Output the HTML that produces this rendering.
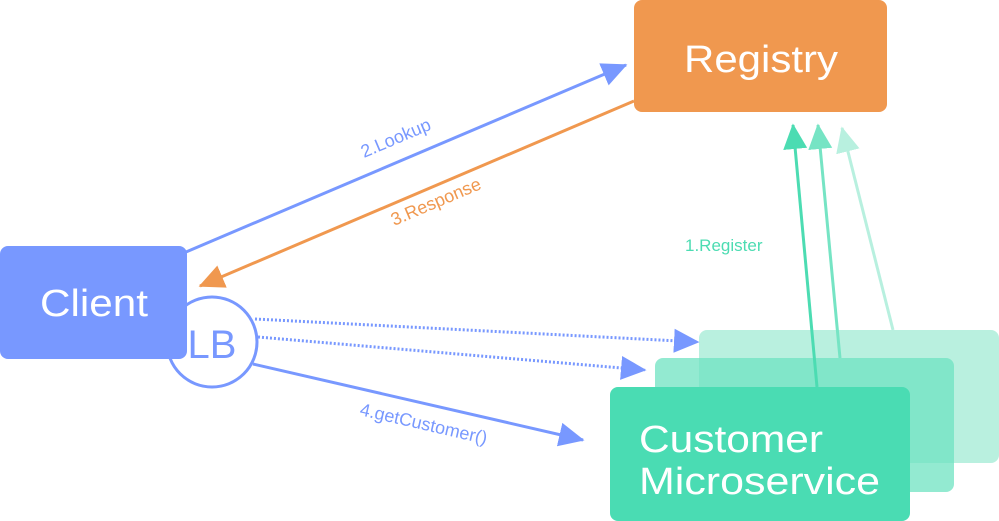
<!DOCTYPE html>
<html><head><meta charset="utf-8"><style>
html,body{margin:0;padding:0;background:#fff;}
svg{display:block;font-family:"Liberation Sans",sans-serif;}
</style></head><body>
<svg width="999" height="521" viewBox="0 0 999 521" xmlns="http://www.w3.org/2000/svg">
<defs>
<marker id="ab" markerWidth="9" markerHeight="9" refX="8" refY="4.5" orient="auto" markerUnits="strokeWidth"><path d="M0,0.5 L8.5,4.5 L0,8.5 Z" fill="#7898ff"/></marker>
<marker id="ao" markerWidth="9" markerHeight="9" refX="8" refY="4.5" orient="auto" markerUnits="strokeWidth"><path d="M0,0.5 L8.5,4.5 L0,8.5 Z" fill="#f0984f"/></marker>
<marker id="g1" markerWidth="9" markerHeight="9" refX="8" refY="4.5" orient="auto" markerUnits="strokeWidth"><path d="M0,0.5 L8.5,4.5 L0,8.5 Z" fill="#4cdcb2"/></marker>
<marker id="g2" markerWidth="9" markerHeight="9" refX="8" refY="4.5" orient="auto" markerUnits="strokeWidth"><path d="M0,0.5 L8.5,4.5 L0,8.5 Z" fill="#76e4c4"/></marker>
<marker id="g3" markerWidth="9" markerHeight="9" refX="8" refY="4.5" orient="auto" markerUnits="strokeWidth"><path d="M0,0.5 L8.5,4.5 L0,8.5 Z" fill="#b8f0df"/></marker>
</defs>
<rect x="699" y="330" width="300" height="133" rx="8" fill="#b9f0df"/>
<rect x="655" y="358" width="299" height="134" rx="8" fill="#6fe3c1" fill-opacity="0.75"/>
<line x1="893" y1="330" x2="842" y2="128" stroke="#b8f0df" stroke-width="3" marker-end="url(#g3)"/>
<line x1="840" y1="358" x2="818" y2="125" stroke="#76e4c4" stroke-width="3" marker-end="url(#g2)"/>
<rect x="610" y="387" width="300" height="134" rx="8" fill="#4adcb3"/>
<line x1="817" y1="387" x2="793" y2="125" stroke="#4cdcb2" stroke-width="3" marker-end="url(#g1)"/>
<text x="639" y="452" font-size="38" fill="#fff" textLength="184" lengthAdjust="spacingAndGlyphs">Customer</text>
<text x="639" y="494" font-size="38" fill="#fff" textLength="241" lengthAdjust="spacingAndGlyphs">Microservice</text>
<text x="685" y="251" font-size="17" fill="#4cdcb2">1.Register</text>
<rect x="634" y="0" width="253" height="112" rx="8" fill="#f0984f"/>
<text x="684" y="72" font-size="38" fill="#fff" textLength="154" lengthAdjust="spacingAndGlyphs">Registry</text>
<line x1="186" y1="252" x2="626" y2="65" stroke="#7898ff" stroke-width="3" marker-end="url(#ab)"/>
<line x1="634" y1="101" x2="200" y2="286" stroke="#f0984f" stroke-width="3" marker-end="url(#ao)"/>
<line x1="255" y1="319" x2="698" y2="342" stroke="#7898ff" stroke-width="3" stroke-dasharray="2 2" marker-end="url(#ab)"/>
<line x1="258" y1="337" x2="645" y2="370" stroke="#7898ff" stroke-width="3" stroke-dasharray="2 2" marker-end="url(#ab)"/>
<line x1="253" y1="364" x2="583" y2="440" stroke="#7898ff" stroke-width="3" marker-end="url(#ab)"/>
<text transform="translate(364,158) rotate(-23)" font-size="18" fill="#7898ff">2.Lookup</text>
<text transform="translate(394,226) rotate(-23)" font-size="18" fill="#f0984f">3.Response</text>
<text transform="translate(359,415) rotate(13)" font-size="18" fill="#7898ff">4.getCustomer()</text>
<circle cx="212" cy="342" r="45" fill="#fff" stroke="#7898ff" stroke-width="3"/>
<rect x="0" y="246" width="187" height="113" rx="8" fill="#7898ff"/>
<text x="40" y="316" font-size="38" fill="#fff" textLength="108" lengthAdjust="spacingAndGlyphs">Client</text>
<text x="212" y="358" font-size="40" fill="#7898ff" text-anchor="middle">LB</text>
</svg>
</body></html>
